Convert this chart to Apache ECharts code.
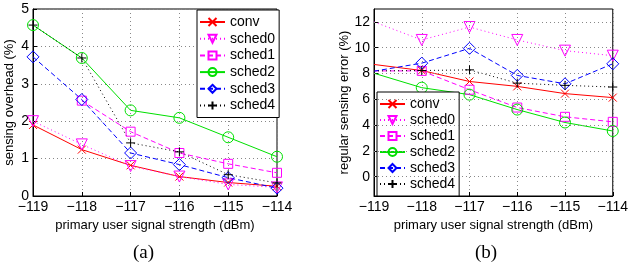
<!DOCTYPE html>
<html>
<head>
<meta charset="utf-8">
<script src="https://cdn.jsdelivr.net/npm/echarts@6/dist/echarts.min.js"></script>
<style>
  html, body { margin: 0; padding: 0; background: #fff; }
  #main { width: 631px; height: 270px; }
</style>
</head>
<body>
<div id="main"></div>
<script>
// x values (dBm)
var xs = [-119, -118, -117, -116, -115, -114];
var names = ['conv', 'sched0', 'sched1', 'sched2', 'sched3', 'sched4'];
var errTicks = [0, 2, 4, 6, 8, 10, 12];

// (a) sensing overhead (%)
var ovConv   = [1.90, 1.24, 0.82, 0.52, 0.36, 0.26];
var ovSched0 = [2.00, 1.38, 0.80, 0.52, 0.31, 0.23];
var ovSched1 = [null, 2.55, 1.72, 1.15, 0.86, 0.62];
var ovSched2 = [4.57, 3.69, 2.29, 2.09, 1.57, 1.05];
var ovSched3 = [3.72, 2.58, 1.15, 0.84, 0.49, 0.21];
var ovSched4 = [4.57, 3.69, 1.42, 1.18, 0.57, 0.35];

// (b) regular sensing error (%) - first value is where the line enters the box
var erConv   = [8.70, 8.23, 7.38, 7.00, 6.44, 6.13];
var erSched0 = [12.0, 10.6, 11.6, 10.6, 9.77, 9.38];
var erSched1 = [8.20, 8.20, 6.74, 5.36, 4.64, 4.25];
var erSched2 = [8.02, 6.90, 6.36, 5.20, 4.20, 3.54];
var erSched3 = [8.18, 8.80, 9.95, 7.85, 7.20, 8.75];
var erSched4 = [8.20, 8.23, 8.28, 7.25, 7.08, 6.95];

var chart = echarts.init(document.getElementById('main'));

var FONT = 'Liberation Sans';
var minus = function (v) { return String(v).replace('-', '\u2212'); };

// marker styles per scheme
var styles = [
  {color: '#ff0000', type: 'solid',  symbol: 'path://M0,0L10,10M10,0L0,10', size: 8},
  {color: '#ff00ff', type: [1, 3],   symbol: 'path://M0,0L12,0L6,10Z', size: 11},
  {color: '#ff00ff', type: [5, 3],   symbol: 'rect', size: 9},
  {color: '#00e000', type: 'solid',  symbol: 'circle', size: 11},
  {color: '#0000ff', type: [5, 3],   symbol: 'diamond', size: 12},
  {color: '#000000', type: [1, 3],   symbol: 'path://M5,0L5,10M0,5L10,5', size: 9}
];

function mk(name, vals, k, gi) {
  var st = styles[k];
  return {
    name: name,
    type: 'line',
    xAxisIndex: gi,
    yAxisIndex: gi,
    data: xs.map(function (x, i) {
      // in (b) the lines come in from the left edge without a marker
      if (gi === 1 && i === 0) return {value: [x, vals[i]], symbol: 'none'};
      return [x, vals[i]];
    }),
    symbol: st.symbol,
    symbolSize: st.size,
    showAllSymbol: true,
    connectNulls: false,
    clip: false,
    lineStyle: {color: st.color, width: 1, type: st.type},
    itemStyle: {color: 'rgba(0,0,0,0)', borderColor: st.color, borderWidth: 1},
    emphasis: {disabled: true},
    animation: false
  };
}

function xAxisCfg(gi) {
  return {
    gridIndex: gi, type: 'value', min: -119, max: -114, interval: 1,
    name: 'primary user signal strength (dBm)', nameLocation: 'middle', nameGap: 19,
    nameTextStyle: {fontFamily: FONT, fontSize: 13, color: '#000'},
    axisLine: {show: true, onZero: false, lineStyle: {color: '#000'}},
    axisTick: {inside: true, length: 4, lineStyle: {color: '#000'}},
    axisLabel: {fontFamily: FONT, fontSize: 14, color: '#000', margin: 4, formatter: minus},
    splitLine: {show: true, lineStyle: {color: '#888', type: [1, 3]}}
  };
}

var yA = {
  gridIndex: 0, type: 'value', min: 0, max: 5, interval: 1,
  name: 'sensing overhead (%)', nameLocation: 'middle', nameGap: 17, nameRotate: 90,
  nameTextStyle: {fontFamily: FONT, fontSize: 13, color: '#000'},
  axisLine: {show: true, onZero: false, lineStyle: {color: '#000'}},
  axisTick: {inside: true, length: 4, lineStyle: {color: '#000'}},
  axisLabel: {fontFamily: FONT, fontSize: 14, color: '#000', margin: 4},
  splitLine: {show: true, lineStyle: {color: '#888', type: [1, 3]}}
};

var yB = {
  gridIndex: 1, type: 'value', min: -1.5, max: 13,
  name: 'regular sensing error (%)', nameLocation: 'middle', nameGap: 14, nameRotate: 90,
  nameTextStyle: {fontFamily: FONT, fontSize: 13, color: '#000'},
  axisLine: {show: true, onZero: false, lineStyle: {color: '#000'}},
  axisTick: {inside: true, length: 4, lineStyle: {color: '#000'}, customValues: errTicks},
  axisLabel: {fontFamily: FONT, fontSize: 14, color: '#000', margin: 4, customValues: errTicks},
  splitLine: {show: false}
};

function legendCfg(left, top, gap) {
  return {
    show: true, orient: 'vertical', left: left, top: top,
    data: names,
    itemWidth: 25, itemHeight: 10, itemGap: gap,
    padding: [5, 4, 5, 2],
    borderColor: '#000', borderWidth: 1, backgroundColor: '#fff',
    textStyle: {fontFamily: FONT, fontSize: 14, lineHeight: 14, color: '#000', padding: [0, 0, 0, 0]},
    selectedMode: false
  };
}

var ov = [ovConv, ovSched0, ovSched1, ovSched2, ovSched3, ovSched4];
var er = [erConv, erSched0, erSched1, erSched2, erSched3, erSched4];
var series = [];
names.forEach(function (n, k) { series.push(mk(n, ov[k], k, 0)); });
names.forEach(function (n, k) { series.push(mk(n, er[k], k, 1)); });

// dotted grid lines for (b) at the labelled ticks
series.push({
  type: 'line', xAxisIndex: 1, yAxisIndex: 1, data: [], silent: true,
  markLine: {
    silent: true, symbol: 'none', label: {show: false}, animation: false,
    lineStyle: {color: '#888', type: [1, 3], width: 1},
    data: errTicks.map(function (v) { return {yAxis: v}; })
  },
  z: 1
});

chart.setOption({
  backgroundColor: '#fff',
  animation: false,
  grid: [
    {left: 33, right: 354, top: 9, bottom: 74, show: true, borderColor: '#000', borderWidth: 1},
    {left: 374, right: 12, top: 9, bottom: 74, show: true, borderColor: '#000', borderWidth: 1}
  ],
  xAxis: [xAxisCfg(0), xAxisCfg(1)],
  yAxis: [yA, yB],
  legend: [legendCfg(197, 10, 2.7), legendCfg(377, 92, 2)],
  graphic: [
    {type: 'text', left: 133, top: 244, style: {text: '(a)', font: '19px "Liberation Serif"', fill: '#000'}},
    {type: 'text', left: 475, top: 244, style: {text: '(b)', font: '19px "Liberation Serif"', fill: '#000'}}
  ],
  series: series
});
</script>
</body>
</html>
